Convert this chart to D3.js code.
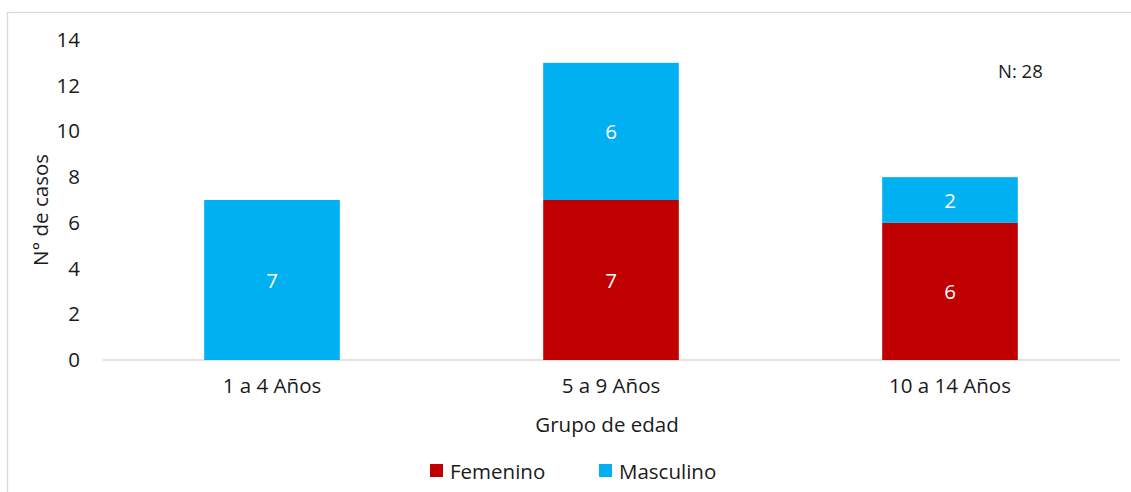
<!DOCTYPE html>
<html><head><meta charset="utf-8">
<script src="https://cdn.jsdelivr.net/npm/d3@7"></script>
<style>body{margin:0;background:#fff}svg{display:block}text{font-family:"Open Sans",sans-serif;fill:#1a1a1a}</style>
</head><body><svg id="c" width="1131" height="492"></svg>
<script>
const categories = ["1 a 4 Años", "5 a 9 Años", "10 a 14 Años"];
const femenino = [0, 7, 6];
const masculino = [7, 6, 2];
const seriesNames = ["Femenino", "Masculino"];
const seriesColors = ["#C00000", "#00B0F0"];
const yTicks = [0, 2, 4, 6, 8, 10, 12, 14];

const svg = d3.select("#c");
const fs = 20.5;
svg.append("rect").attr("x", 7.5).attr("y", 12.5).attr("width", 1200).attr("height", 600)
  .attr("fill", "none").attr("stroke", "#d9d9d9").attr("stroke-width", 1.3);

const x = d3.scaleBand().domain(categories).range([102.5, 1119.5]).paddingInner(0.6).paddingOuter(0.3);
const y = d3.scaleLinear().domain([0, 14]).range([360, 40]);

const data = categories.map((c, i) => ({cat: c, Femenino: femenino[i], Masculino: masculino[i]}));
const stack = d3.stack().keys(seriesNames)(data);

// axis baseline
svg.append("line").attr("x1", 102.5).attr("x2", 1119.5).attr("y1", y(0)).attr("y2", y(0))
  .attr("stroke", "#d9d9d9").attr("stroke-width", 1.3);

// y tick labels
const yAxis = d3.axisLeft(y).tickValues(yTicks).tickSize(0).tickPadding(0);
const gy = svg.append("g").attr("transform", "translate(80,0)").call(yAxis);
gy.select(".domain").remove();
gy.selectAll("text").style("font-family", '"Open Sans",sans-serif').style("font-size", fs + "px").attr("fill", "#1a1a1a");

// x tick labels
const xAxis = d3.axisBottom(x).tickSize(0).tickPadding(0);
const gx = svg.append("g").attr("transform", "translate(0,378)").call(xAxis);
gx.select(".domain").remove();
gx.selectAll("text").style("font-family", '"Open Sans",sans-serif').style("font-size", fs + "px").attr("fill", "#1a1a1a");

// bars
stack.forEach((s, si) => {
  const g = svg.append("g");
  s.forEach(d => {
    if (d[1] - d[0] <= 0) return;
    g.append("rect").attr("x", x(d.data.cat)).attr("width", x.bandwidth())
      .attr("y", y(d[1])).attr("height", y(d[0]) - y(d[1])).attr("fill", seriesColors[si]);
    g.append("text").attr("x", x(d.data.cat) + x.bandwidth() / 2).attr("y", (y(d[0]) + y(d[1])) / 2)
      .attr("text-anchor", "middle").attr("dominant-baseline", "central")
      .style("fill", "#fff").style("font-size", fs + "px").text(d[1] - d[0]);
  });
});

// axis titles
svg.append("text").attr("transform", "translate(40,210) rotate(-90)").attr("text-anchor", "middle")
  .attr("dominant-baseline", "central").style("font-size", fs + "px").text("N° de casos");
svg.append("text").attr("x", 607).attr("y", 424).attr("text-anchor", "middle")
  .attr("dominant-baseline", "central").style("font-size", fs + "px").text("Grupo de edad");

// N annotation
svg.append("text").attr("x", 998).attr("y", 70).attr("dominant-baseline", "central")
  .style("font-size", "18.5px").text("N: 28");

// legend
const legX = [430, 599];
seriesNames.forEach((n, i) => {
  svg.append("rect").attr("x", legX[i]).attr("y", 464).attr("width", 13).attr("height", 13).attr("fill", seriesColors[i]);
  svg.append("text").attr("x", legX[i] + 20).attr("y", 470.5).attr("dominant-baseline", "central")
    .style("font-size", fs + "px").text(n);
});
</script></body></html>
